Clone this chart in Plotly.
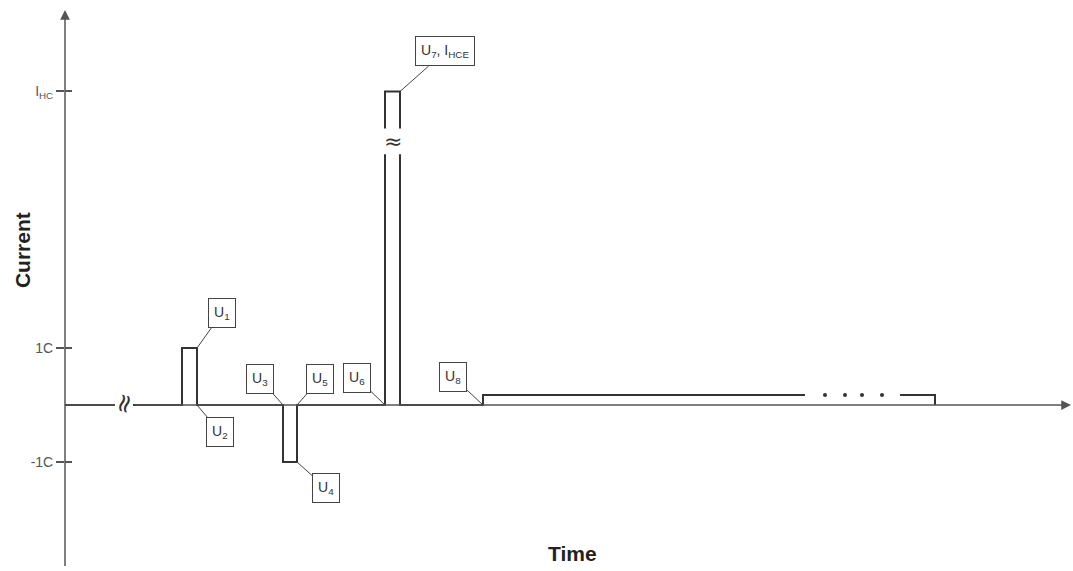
import plotly.graph_objects as go

# ── Waveform (time in arbitrary units, current in multiples of C) ──────────────
time = [0, 5.0, None, 6.8, 11.7, 11.7, 13.2, 13.2, 21.8, 21.8, 23.2, 23.2,
        32.0, 32.0, None, 32.0, 32.0, 33.5, 33.5, None, 33.5, 33.5,
        41.8, 41.8, 74.0, None, 83.5, 87.0, 87.0]
current = [0, 0, None, 0, 0, 1.0, 1.0, 0, 0, -1.0, -1.0, 0,
           0, 4.4, None, 4.85, 5.5, 5.5, 4.85, None, 4.4, 0,
           0, 0.175, 0.175, None, 0.175, 0.175, 0]

# time-axis break (start, end) and axis extent
axis_break = (5.0, 6.8)
time_axis_end = 100.6

# "· · · ·" continuation dots on the trickle segment
dots_time = [76.0, 78.0, 79.7, 81.7]
dots_current = [0.175, 0.175, 0.175, 0.175]

# Y tick labels
tick_vals = [5.5, 1, -1]
tick_text = ["I<sub>HC</sub>", "1C", "-1C"]

# Callout labels and the waveform points they refer to
callout_text = ["U<sub>1</sub>", "U<sub>2</sub>", "U<sub>3</sub>", "U<sub>5</sub>",
                "U<sub>4</sub>", "U<sub>6</sub>", "U<sub>7</sub>, I<sub>HCE</sub>", "U<sub>8</sub>"]
callout_time = [13.2, 13.2, 21.8, 23.2, 23.2, 32.0, 33.5, 41.8]
callout_current = [1.0, 0, 0, 0, -1.0, 0, 5.5, 0]
# box offsets in pixels from the point (layout only)
callout_offset = [(25, -35), (23, 27), (-23, -26), (23, -26),
                  (29, 26), (-28, -27), (45, -40), (-30, -28)]

INK = "#333333"
AXIS = "#555555"
FONT = "Liberation Sans, Arial, sans-serif"

fig = go.Figure()

fig.add_trace(go.Scatter(
    x=time, y=current, mode="lines", connectgaps=False,
    line=dict(color=INK, width=2), hoverinfo="skip", showlegend=False,
))
fig.add_trace(go.Scatter(
    x=dots_time, y=dots_current, mode="markers",
    marker=dict(color=INK, size=4), hoverinfo="skip", showlegend=False,
))
# empty trace so the overlaid tick axis (inside ticks) gets drawn
fig.add_trace(go.Scatter(x=[None], y=[None], yaxis="y2", showlegend=False, hoverinfo="skip"))

annotations = []

# axes drawn as arrows
annotations.append(dict(x=0, y=6.93, ax=0, ay=-2.85, xref="x", yref="y",
                        axref="x", ayref="y", text="", showarrow=True,
                        arrowhead=2, arrowsize=1.3, arrowwidth=1.5, arrowcolor=AXIS))
annotations.append(dict(x=axis_break[0], y=0, ax=0, ay=0, xref="x", yref="y",
                        axref="x", ayref="y", text="", showarrow=True,
                        arrowhead=0, arrowwidth=1.5, arrowcolor=AXIS))
annotations.append(dict(x=time_axis_end, y=0, ax=axis_break[1], ay=0, xref="x", yref="y",
                        axref="x", ayref="y", text="", showarrow=True,
                        arrowhead=2, arrowsize=1.3, arrowwidth=1.5, arrowcolor=AXIS))

# break symbols
annotations.append(dict(x=sum(axis_break) / 2, y=0.03, xref="x", yref="y", text="≈",
                        showarrow=False, textangle=-75,
                        font=dict(size=26, color=INK, family="DejaVu Sans")))
annotations.append(dict(x=32.75, y=4.62, xref="x", yref="y", text="≈", showarrow=False,
                        font=dict(size=22, color=INK, family="DejaVu Sans")))

# callout boxes
for txt, t, c, (dx, dy) in zip(callout_text, callout_time, callout_current, callout_offset):
    annotations.append(dict(
        x=t, y=c, xref="x", yref="y", ax=dx, ay=dy, text=txt, showarrow=True,
        arrowhead=0, arrowwidth=1, arrowcolor="#444444", standoff=0,
        bordercolor="#444444", borderwidth=1, borderpad=5, bgcolor="white",
        font=dict(size=14, color="#333333", family=FONT),
    ))

# axis titles
annotations.append(dict(x=-0.0427, y=0.562, xref="paper", yref="paper", text="<b>Current</b>",
                        textangle=-90, showarrow=False, xanchor="center", yanchor="middle",
                        font=dict(size=21, color="#222222", family=FONT)))
annotations.append(dict(x=0.503, y=0.0315, xref="paper", yref="paper", text="<b>Time</b>",
                        showarrow=False, xanchor="center", yanchor="middle",
                        font=dict(size=21, color="#222222", family=FONT)))

fig.update_layout(
    width=1073, height=571,
    margin=dict(l=65, r=0, t=0, b=0),
    paper_bgcolor="white", plot_bgcolor="white",
    font=dict(family=FONT, color=AXIS),
    xaxis=dict(range=[0, 100.8], showgrid=False, zeroline=False,
               showticklabels=False, showline=False, ticks=""),
    yaxis=dict(range=[-2.912, 7.105], showgrid=False, zeroline=False, showline=False,
               tickvals=tick_vals, ticktext=tick_text, ticks="outside", ticklen=8,
               tickwidth=1.5, tickcolor=AXIS, tickfont=dict(size=14, color=AXIS, family=FONT)),
    yaxis2=dict(overlaying="y", matches="y", side="left", showgrid=False, zeroline=False,
                showline=False, tickvals=tick_vals, ticks="inside", ticklen=7,
                tickwidth=1.5, tickcolor=AXIS, showticklabels=False),
    annotations=annotations,
    showlegend=False,
)

# page body has an 8px default margin; remove it so the figure sits at the corner
fig.write_html("out.html", config={"displayModeBar": False},
               post_script="document.body.style.margin='0';")
